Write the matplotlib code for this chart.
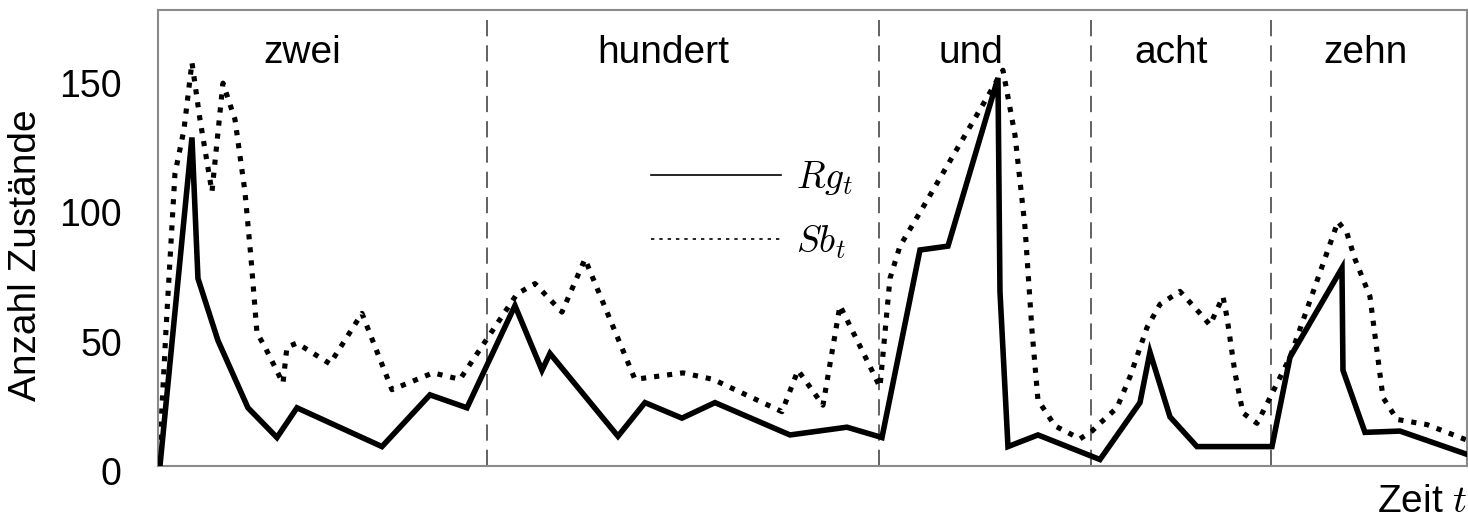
import matplotlib
matplotlib.use("Agg")
import matplotlib.pyplot as plt
from matplotlib.lines import Line2D
from matplotlib.transforms import ScaledTranslation

plt.rcParams['font.family'] = ['Liberation Sans', 'DejaVu Sans']
plt.rcParams['mathtext.fontset'] = 'cm'

# ---- data ----
rg_t = [0.2, 3.4, 4.0, 6.0, 9.0, 11.9, 13.9, 22.4, 27.2, 30.9, 35.7, 38.4, 39.2,
        46.0, 48.7, 52.4, 55.7, 63.2, 68.9, 72.4, 76.2, 79.0, 84.0, 84.2, 85.0,
        88.0, 94.2, 98.2, 99.2, 101.2, 103.9, 111.4, 113.2, 118.4, 118.5, 120.7,
        124.2, 130.9]
rg_v = [0, 127, 72.5, 48.5, 22.5, 11, 22.5, 7.5, 27.5, 22.5, 62, 37, 43.5,
        11.5, 24.5, 18.5, 24.5, 12, 15, 11, 83.5, 85, 150, 67.5, 7.5,
        12, 2.5, 24.5, 44, 19, 7.5, 7.5, 42, 76.5, 37, 13,
        13.5, 4.5]

sb_t = [0.1, 0.8, 1.7, 2.6, 3.4, 4.2, 5.4, 6.5, 7.7, 8.7, 9.3, 9.9, 10.7, 12.5,
        12.9, 13.9, 17.2, 20.4, 23.4, 27.5, 30.2, 35.9, 37.7, 40.4, 42.7, 47.7,
        52.5, 55.5, 62.4, 64.0, 66.5, 68.2, 71.2, 72.2, 73.2, 74.2, 76.5, 84.5,
        85.7, 86.7, 87.4, 88.0, 89.7, 92.2, 93.4, 94.2, 95.9, 97.2, 98.9, 100.2,
        102.2, 104.2, 105.2, 106.5, 106.9, 107.7, 108.5, 109.9, 110.7, 113.2,
        118.0, 118.9, 119.7, 121.2, 122.5, 123.9, 126.9, 130.9]
sb_v = [0, 52.5, 113, 130, 156, 134, 106, 148, 134, 106, 80.5, 51.5, 46, 32,
        46, 47.5, 39.5, 59, 29.5, 36, 33.5, 66.5, 70.5, 59.5, 80, 33.5,
        36, 33.5, 21, 37, 23.5, 62, 38.5, 30.5, 72.5, 85, 100, 153,
        128, 92.5, 52.5, 25.5, 15.5, 10.5, 13.5, 16.5, 22.5, 34.5, 53.5, 62.5,
        67.5, 59, 54.5, 65.5, 57.5, 36, 20.5, 16.5, 22.5, 42,
        94.5, 90, 80, 65.5, 26.5, 18, 16, 10]

boundaries = [32.9, 72.1, 93.3, 111.3]
words = ["zwei", "hundert", "und", "acht", "zehn"]
word_pos = [14.4, 50.5, 81.3, 101.3, 120.8]
yticks = [0, 50, 100, 150]

# ---- figure ----
fig = plt.figure(figsize=(14.68, 5.23), dpi=100)
ax = fig.add_axes([0.1076, 0.109, 0.8917, 0.872])

for b in boundaries:
    ax.axvline(b, color='#555555', lw=1.3, dashes=(9, 5), zorder=1)

ax.plot(sb_t, sb_v, color='black', lw=3.7, linestyle=(0, (1, 1.55)),
        dash_capstyle='butt', zorder=2)
ax.plot(rg_t, rg_v, color='black', lw=4.0, solid_joinstyle='miter', zorder=3)

for w, p in zip(words, word_pos):
    ax.text(p, 0.884, w, transform=ax.get_xaxis_transform(), ha='center',
            va='baseline', fontsize=28)

handles = [Line2D([], [], color='black', lw=1.2),
           Line2D([], [], color='black', lw=1.2, linestyle=(0, (2, 3)))]
ax.legend(handles, [r'$Rg_t$', r'$Sb_t$'], loc='upper left',
          bbox_to_anchor=(0.351, 0.747), frameon=False, fontsize=27,
          handlelength=3.47, handletextpad=0.4, labelspacing=0.7)

ax.set_xlim(0, 130.9)
ax.set_ylim(0, 176.3)
ax.set_xticks([])
ax.set_yticks(yticks)
ax.tick_params(axis='y', length=0, pad=26, labelsize=27)
off = ScaledTranslation(0, -5 / 100, fig.dpi_scale_trans)
for lab in ax.get_yticklabels():
    lab.set_transform(lab.get_transform() + off)
ax.set_ylabel('Anzahl Zustände', fontsize=28)
ax.yaxis.set_label_coords(-0.087, 0.463)
ax.set_xlabel(r'Zeit $t$', fontsize=28, loc='right', labelpad=13)

for s in ax.spines.values():
    s.set_color('#8a8a8a')
    s.set_linewidth(1.5)

fig.savefig('out.png', dpi=100)
